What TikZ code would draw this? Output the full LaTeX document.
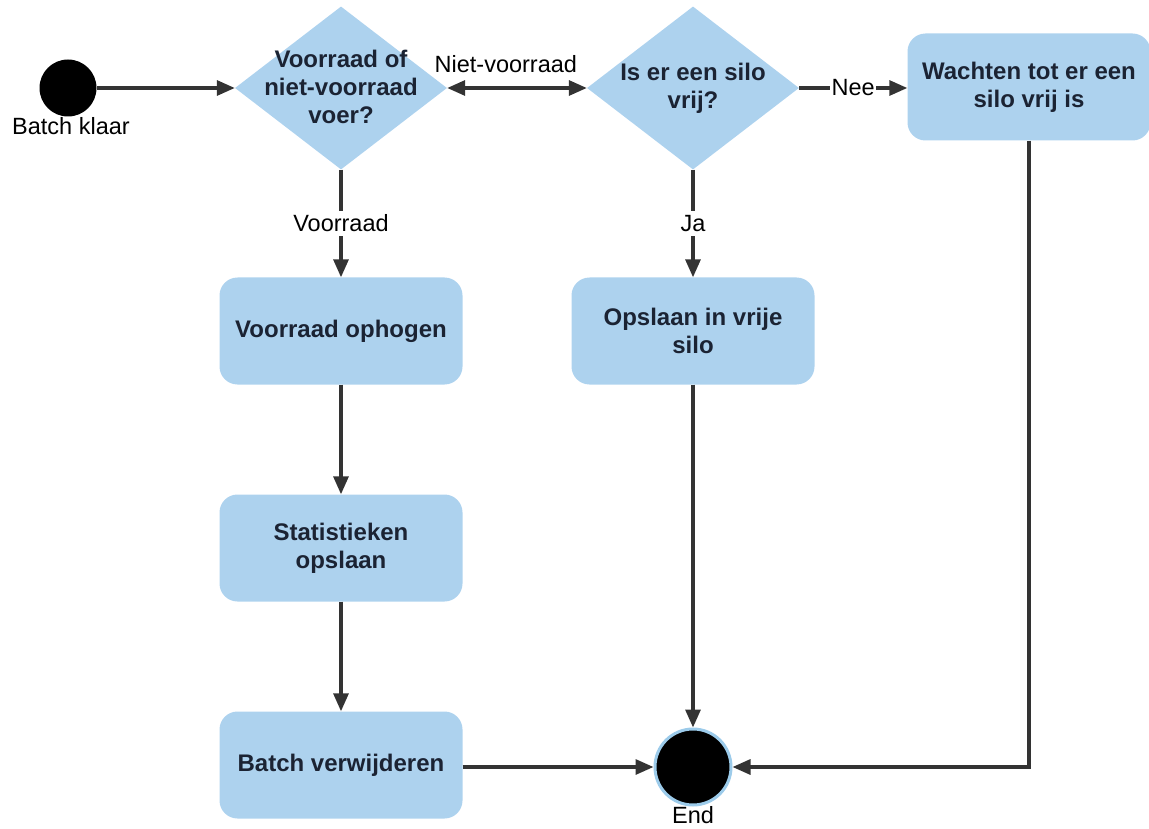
\documentclass[tikz,border=0pt]{standalone}
\usepackage{fontspec}
\setmainfont{Liberation Sans}
\usetikzlibrary{shapes.geometric,arrows.meta}
\definecolor{boxblue}{HTML}{ADD2EE}
\definecolor{inkdark}{HTML}{1B2333}
\definecolor{wire}{HTML}{333333}
\definecolor{ringblue}{HTML}{9CCBEA}
\begin{document}
\begin{tikzpicture}[x=1pt,y=-1pt,
  every node/.style={font=\fontsize{23.5}{28}\selectfont, text=black},
  stepbox/.style={rectangle, rounded corners=18pt, fill=boxblue, draw=none,
    minimum width=243pt, minimum height=107pt, align=center,
    font=\fontsize{24}{28}\selectfont\bfseries, text=inkdark},
  decision/.style={diamond, fill=boxblue, draw=none, inner sep=0pt,
    minimum width=212pt, minimum height=163pt},
  dtext/.style={align=center, font=\fontsize{24}{28}\selectfont\bfseries, text=inkdark},
  flow/.style={draw=wire, line width=3.2pt, -{Triangle[length=18pt,width=15pt]}},
  twoway/.style={draw=wire, line width=3.2pt,
    {Triangle[length=18pt,width=15pt]}-{Triangle[length=18pt,width=15pt]}},
  edgelbl/.style={fill=white, inner sep=1.5pt, text=black}
]
\useasboundingbox (0,0) rectangle (1149,829);

% start and end states
\node[circle, fill=black, minimum size=57pt, inner sep=0pt] (start) at (68,88) {};
\node[anchor=north, inner sep=0pt] (startlbl) at ([xshift=3pt,yshift=-1pt]start.south) {Batch klaar};
\node[circle, fill=black, draw=ringblue, line width=3pt, minimum size=76pt, inner sep=0pt] (end) at (693,767) {};
\node[anchor=north, inner sep=0pt] (endlbl) at (end.south) {End};

% decisions
\node[decision] (d1) at (341,88) {};
\node[dtext] (d1txt) at (341,87) {Voorraad of\\niet-voorraad\\voer?};
\node[decision] (d2) at (693,88) {};
\node[dtext] (d2txt) at (693,88) {Is er een silo\\vrij?};

% actions
\node[stepbox] (wait) at (1029,87) {Wachten tot er een\\silo vrij is};
\node[stepbox] (stock) at (341,331) {Voorraad ophogen};
\node[stepbox] (stats) at (341,548) {Statistieken\\opslaan};
\node[stepbox] (remove) at (341,765) {Batch verwijderen};
\node[stepbox] (store) at (693,331) {Opslaan in vrije\\silo};

% connectors
\draw[flow] (start) -- (d1.west);
\draw[twoway] (d1.east) -- node[pos=0.42, above=14pt, inner sep=0pt] (lblnv) {Niet-voorraad} (d2.west);
\draw[flow] (d2.east) -- node[edgelbl] (lblnee) {Nee} (wait.west |- d2.east);
\draw[flow] (d1.south) -- node[edgelbl, inner ysep=4pt] (lblv) {Voorraad} (stock.north);
\draw[flow] (d2.south) -- node[edgelbl, inner ysep=4pt] (lblja) {Ja} (store.north);
\draw[flow] (stock.south) -- (stats.north);
\draw[flow] (stats.south) -- (remove.north);
\draw[flow] (remove.east |- end.west) -- (end.west);
\draw[flow] (store.south) -- (end.north);
\draw[flow] (wait.south) |- (end.east);
\end{tikzpicture}
\end{document}
